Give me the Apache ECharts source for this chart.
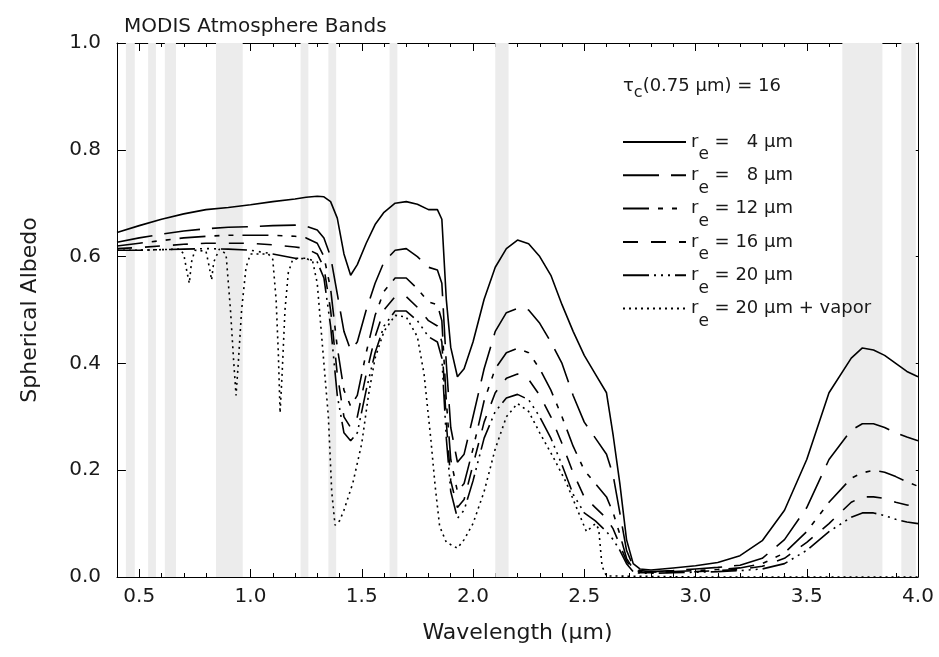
<!DOCTYPE html>
<html><head><meta charset="utf-8">
<script src="https://cdn.jsdelivr.net/npm/echarts@6/dist/echarts.min.js"></script>
<style>html,body{margin:0;padding:0;background:#fff}#c{width:939px;height:657px}</style>
</head><body><div id="c"></div>
<script>
// ---- data ----
const wavelengths = [0.40,0.50,0.60,0.70,0.80,0.90,1.00,1.10,1.20,1.25,
  1.30,1.33,1.36,1.39,1.42,1.45,1.48,1.52,1.56,1.60,
  1.65,1.70,1.75,1.80,1.84,1.86,1.88,1.90,1.93,1.96,
  2.00,2.05,2.10,2.15,2.20,2.25,2.30,2.35,2.40,2.45,
  2.50,2.55,2.60,2.63,2.66,2.69,2.72,2.75,2.80,2.90,
  3.00,3.10,3.20,3.30,3.40,3.50,3.60,3.70,3.75,3.80,
  3.85,3.90,3.95,4.00];
const re4 = [0.645,0.658,0.670,0.680,0.688,0.692,0.697,0.703,0.708,0.711,
  0.713,0.712,0.703,0.672,0.605,0.565,0.585,0.625,0.660,0.683,
  0.700,0.703,0.698,0.688,0.688,0.670,0.520,0.430,0.375,0.390,
  0.440,0.520,0.580,0.615,0.631,0.624,0.600,0.565,0.510,0.460,
  0.415,0.380,0.345,0.265,0.175,0.070,0.025,0.015,0.013,0.017,
  0.021,0.027,0.040,0.068,0.125,0.220,0.345,0.410,0.429,0.425,
  0.415,0.400,0.385,0.375];
const re8 = [0.627,0.635,0.642,0.648,0.652,0.655,0.656,0.658,0.659,0.657,
  0.650,0.635,0.600,0.530,0.460,0.425,0.440,0.500,0.550,0.590,
  0.612,0.615,0.600,0.580,0.575,0.550,0.400,0.280,0.215,0.230,
  0.300,0.390,0.460,0.495,0.503,0.500,0.475,0.440,0.400,0.340,
  0.290,0.260,0.230,0.190,0.120,0.050,0.020,0.012,0.010,0.012,
  0.015,0.018,0.022,0.035,0.070,0.130,0.220,0.275,0.287,0.287,
  0.280,0.270,0.262,0.255];
const re12 = [0.620,0.625,0.630,0.635,0.638,0.640,0.640,0.640,0.638,0.635,
  0.625,0.600,0.540,0.430,0.350,0.320,0.340,0.420,0.490,0.535,
  0.560,0.560,0.540,0.515,0.510,0.480,0.330,0.220,0.160,0.175,
  0.240,0.330,0.390,0.420,0.428,0.420,0.390,0.350,0.300,0.245,
  0.200,0.175,0.150,0.120,0.080,0.035,0.015,0.010,0.009,0.010,
  0.012,0.014,0.017,0.025,0.045,0.085,0.140,0.185,0.195,0.200,
  0.196,0.188,0.178,0.170];
const re16 = [0.615,0.617,0.620,0.623,0.625,0.625,0.625,0.622,0.618,0.615,
  0.605,0.580,0.500,0.380,0.300,0.280,0.300,0.380,0.450,0.500,
  0.525,0.525,0.505,0.480,0.470,0.440,0.290,0.180,0.130,0.145,
  0.210,0.290,0.345,0.372,0.380,0.370,0.340,0.300,0.250,0.195,
  0.150,0.130,0.110,0.090,0.060,0.030,0.012,0.008,0.008,0.009,
  0.010,0.012,0.014,0.020,0.035,0.065,0.100,0.140,0.150,0.150,
  0.147,0.140,0.135,0.130];
const re20 = [0.612,0.612,0.613,0.614,0.615,0.614,0.612,0.605,0.597,0.597,
  0.590,0.560,0.470,0.340,0.270,0.255,0.270,0.350,0.420,0.470,
  0.498,0.498,0.480,0.450,0.440,0.410,0.260,0.160,0.110,0.125,
  0.180,0.260,0.310,0.335,0.342,0.332,0.300,0.260,0.210,0.155,
  0.120,0.105,0.085,0.070,0.050,0.025,0.010,0.007,0.007,0.008,
  0.009,0.010,0.012,0.015,0.025,0.050,0.085,0.112,0.120,0.120,
  0.115,0.108,0.103,0.100];
const vaporWavelengths = [0.40,0.50,0.60,0.68,0.70,0.715,0.725,0.735,0.75,0.80,
  0.815,0.825,0.835,0.86,0.89,0.91,0.925,0.935,0.945,0.96,
  0.98,1.00,1.08,1.10,1.115,1.125,1.133,1.142,1.155,1.17,
  1.19,1.25,1.28,1.30,1.33,1.35,1.365,1.38,1.40,1.42,
  1.46,1.50,1.53,1.56,1.60,1.65,1.70,1.75,1.78,1.81,
  1.83,1.85,1.88,1.93,1.96,2.00,2.05,2.10,2.15,2.20,
  2.25,2.30,2.36,2.42,2.47,2.51,2.55,2.565,2.58,2.60,
  3.00,4.00];
const re20Vapor = [0.612,0.612,0.613,0.614,0.605,0.570,0.550,0.590,0.612,0.610,
  0.580,0.556,0.590,0.614,0.605,0.500,0.400,0.340,0.400,0.500,
  0.580,0.605,0.605,0.595,0.520,0.420,0.307,0.380,0.500,0.570,
  0.595,0.597,0.590,0.550,0.400,0.300,0.160,0.097,0.105,0.125,
  0.176,0.250,0.340,0.410,0.460,0.490,0.487,0.450,0.380,0.260,
  0.170,0.095,0.065,0.054,0.070,0.100,0.160,0.240,0.300,0.325,
  0.310,0.270,0.225,0.176,0.125,0.085,0.100,0.090,0.020,0.002,
  0.000,0.000];
// MODIS atmosphere bands (µm)
const bandStart = [0.44,0.54,0.615,0.845,1.225,1.35,1.625,2.10,3.66,3.925];
const bandEnd   = [0.48,0.575,0.665,0.965,1.26,1.385,1.66,2.16,3.84,3.99];
const xTickLabels = [0.5,1.0,1.5,2.0,2.5,3.0,3.5,4.0];
const seriesNames = ['re4','re8','re12','re16','re20','re20v'];
const legendTexts = ['r{sub|e} =   4 µm','r{sub|e} =   8 µm','r{sub|e} = 12 µm','r{sub|e} = 16 µm','r{sub|e} = 20 µm','r{sub|e} = 20 µm + vapor'];

// ---- chart ----
const FONT = 'DejaVu Sans, Liberation Sans, Arial, sans-serif';
const INK = '#1a1a1a';
const chart = echarts.init(document.getElementById('c'), null, {renderer:'canvas'});
const pair = (xs, ys) => xs.map((x,i)=>[x, ys[i]]);
const dashes = ['solid', [36,12], [26,9,5,9,5,9], [15,13], [26,5,2,5,2,5,2,5], [2,4]];
const values = [re4, re8, re12, re16, re20, re20Vapor];
const series = seriesNames.map((n,i)=>({
  name: n, type:'line', symbol:'none', silent:true, z: 3,
  data: pair(i===5 ? vaporWavelengths : wavelengths, values[i]),
  lineStyle:{color:'#000', width:1.6, type: dashes[i]},
  itemStyle:{color:'#000'}
}));
series.push({
  name:'bands', type:'line', data:[], silent:true, z:1,
  markArea:{silent:true, itemStyle:{color:'#ececec'},
    data: bandStart.map((s,i)=>[{xAxis:s},{xAxis:bandEnd[i]}])}
});
const axisCommon = {type:'value', min:0.4, max:4.0, splitLine:{show:false}};
chart.setOption({
  animation:false,
  textStyle:{fontFamily:FONT},
  grid:{left:117, right:21, top:43, bottom:80},
  title:[
    {text:'MODIS Atmosphere Bands', left:119, top:12,
     textStyle:{fontSize:20, fontWeight:'normal', color:INK, fontFamily:FONT}},
    {text:'τ{sub|c}(0.75 µm) = 16', left:618, top:71,
     textStyle:{fontSize:18, fontWeight:'normal', color:INK, fontFamily:FONT, lineHeight:20,
       rich:{sub:{fontSize:16, lineHeight:20, padding:[14,0,0,0], color:INK, fontFamily:FONT}}}}
  ],
  legend:{
    orient:'vertical', left:617, top:115.5, itemWidth:63, itemHeight:14, itemGap:-9.7,
    selectedMode:false, data: seriesNames,
    itemStyle:{color:'rgba(0,0,0,0)', borderColor:'rgba(0,0,0,0)', borderWidth:0},
    formatter: n => legendTexts[seriesNames.indexOf(n)],
    textStyle:{fontSize:18, color:INK, lineHeight:18, fontFamily:FONT,
      rich:{sub:{fontSize:17, lineHeight:18, padding:[26,0,0,0], color:INK, fontFamily:FONT}}}
  },
  xAxis:[
    Object.assign({}, axisCommon, {position:'bottom',
      axisLine:{lineStyle:{color:'#000', width:1}},
      axisTick:{inside:true, length:8, customValues:xTickLabels, lineStyle:{color:'#000'}},
      axisLabel:{customValues:xTickLabels, formatter:v=>v.toFixed(1), fontSize:20, color:INK, margin:10},
      name:'Wavelength (µm)', nameLocation:'middle', nameGap:45,
      nameTextStyle:{fontSize:22, color:INK}}),
    Object.assign({}, axisCommon, {position:'bottom', interval:0.1,
      axisLine:{show:false}, axisTick:{inside:true, length:4, lineStyle:{color:'#000'}},
      axisLabel:{show:false}}),
    Object.assign({}, axisCommon, {position:'top',
      axisLine:{lineStyle:{color:'#000', width:1}},
      axisTick:{inside:true, length:8, customValues:xTickLabels, lineStyle:{color:'#000'}},
      axisLabel:{show:false}}),
    Object.assign({}, axisCommon, {position:'top', interval:0.1,
      axisLine:{show:false}, axisTick:{inside:true, length:4, lineStyle:{color:'#000'}},
      axisLabel:{show:false}})
  ],
  yAxis:[
    {type:'value', min:0, max:1, interval:0.2, position:'left', splitLine:{show:false},
     axisLine:{show:true, lineStyle:{color:'#000'}},
     axisTick:{show:true, inside:true, length:10, lineStyle:{color:'#000'}},
     axisLabel:{formatter:v=>v.toFixed(1), fontSize:20, color:INK, margin:16},
     name:'Spherical Albedo', nameLocation:'middle', nameGap:76,
     nameTextStyle:{fontSize:22, color:INK}},
    {type:'value', min:0, max:1, interval:0.2, position:'right', splitLine:{show:false},
     axisLine:{show:true, lineStyle:{color:'#000'}},
     axisTick:{show:true, inside:true, length:8, lineStyle:{color:'#000'}},
     axisLabel:{show:false}}
  ],
  series: series
});
</script></body></html>
